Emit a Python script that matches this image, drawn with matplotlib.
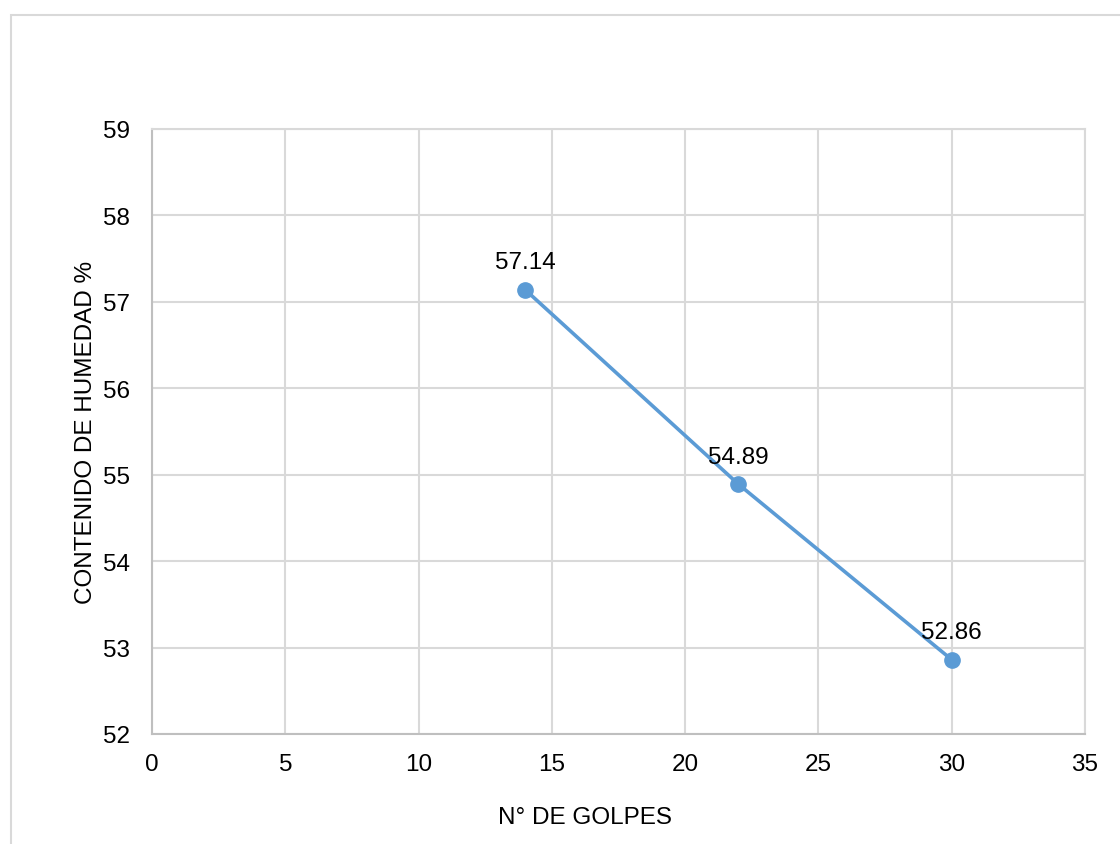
import matplotlib.pyplot as plt
from matplotlib.patches import Rectangle

plt.rcParams['font.family'] = ['Liberation Sans', 'DejaVu Sans']

# datos del ensayo
golpes = [14, 22, 30]
humedad = [57.14, 54.89, 52.86]
etiquetas = ['57.14', '54.89', '52.86']

W, H = 1120, 845
fig = plt.figure(figsize=(W / 100, H / 100), dpi=100)

# borde del area del grafico (recortado a la derecha y abajo)
fig.patches.append(Rectangle((11 / W, -0.1), 1.2, 1.1 - 16 / H,
                             transform=fig.transFigure, fill=False,
                             edgecolor='#d9d9d9', linewidth=1.5))

ax = fig.add_axes([152 / W, 1 - 735 / H, (1085 - 152) / W, (735 - 130) / H])

ax.plot(golpes, humedad, color='#5b9bd5', linewidth=2.6, marker='o',
        markersize=11, zorder=3)
for x, y, t in zip(golpes, humedad, etiquetas):
    ax.annotate(t, (x, y), xytext=(0, 12), textcoords='offset points',
                ha='center', va='bottom', fontsize=17.5, color='#000000')

ax.set_xlim(0, 35)
ax.set_ylim(52, 59)
ax.set_xticks(range(0, 36, 5))
ax.set_yticks(range(52, 60))
ax.grid(True, color='#d9d9d9', linewidth=1.5)
ax.set_axisbelow(True)
for s in ax.spines.values():
    s.set_color('#d9d9d9')
    s.set_linewidth(1.5)
ax.spines['bottom'].set_color('#bfbfbf')
ax.spines['left'].set_color('#bfbfbf')
ax.tick_params(length=0, labelsize=17.5, pad=14)
ax.tick_params(axis='y', pad=16)

ax.set_xlabel('N° DE GOLPES', fontsize=17.5)
ax.xaxis.set_label_coords((585 - 152) / 933, (735 - 807) / 605)
ax.set_ylabel('CONTENIDO DE HUMEDAD %', fontsize=17.5, labelpad=4)

fig.savefig('out.png', dpi=100)
